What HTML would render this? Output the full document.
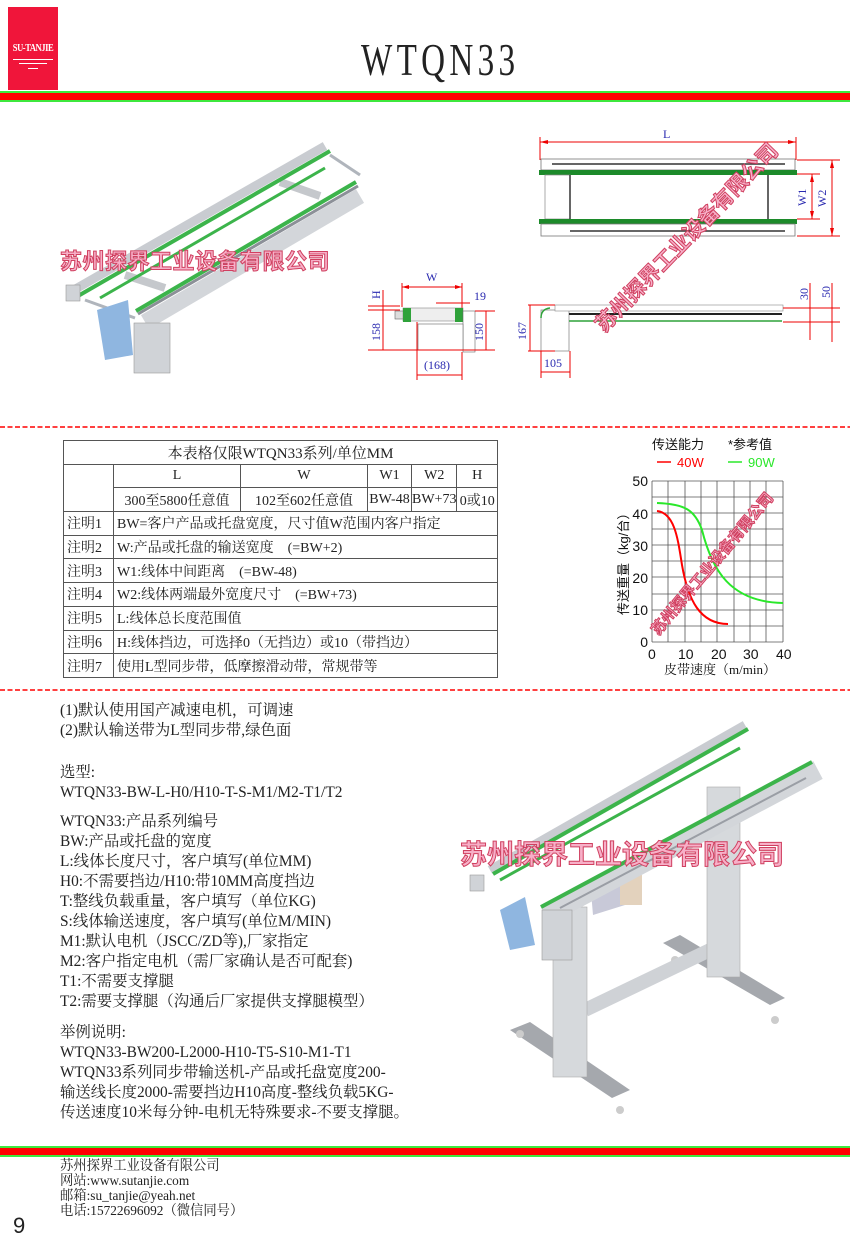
<!DOCTYPE html>
<html><head><meta charset="utf-8"><style>
*{margin:0;padding:0;box-sizing:border-box}
body{width:850px;height:1250px;background:#fff;position:relative;overflow:hidden;font-family:"Liberation Serif","Noto Serif CJK SC",serif;color:#222}
.a{position:absolute;white-space:nowrap}
.tx{font-size:15.4px;line-height:20px;left:60px}
table{border-collapse:collapse;position:absolute;left:63px;top:440px;width:435px;font-size:14px}
td{border:1px solid #555;height:23.7px;padding:0 3px;white-space:nowrap}
td.c{text-align:center}
.wm{position:absolute;white-space:nowrap;font-family:"Liberation Sans","Noto Sans CJK SC",sans-serif;font-weight:bold;color:#f7b0c8;-webkit-text-stroke:1px #d04060}
</style></head><body>

<div class="a" style="left:8px;top:7px;width:50px;height:83px;background:#f0153a"></div>
<div class="a" style="left:8px;top:43px;width:50px;text-align:center;color:#fff;font-size:10px;font-weight:bold;letter-spacing:-0.5px;transform:scaleX(0.85)">SU-TANJIE</div>
<div class="a" style="left:13px;top:59px;width:40px;height:1px;background:#fff"></div>
<div class="a" style="left:19px;top:63px;width:28px;height:1px;background:#fff"></div>
<div class="a" style="left:28px;top:68px;width:10px;height:1px;background:#fff"></div>
<div class="a" style="left:361px;top:34px;font-size:46px;letter-spacing:6px;line-height:52px;transform:scaleX(0.72);transform-origin:left">WTQN33</div>
<div class="a" style="left:0;top:91px;width:850px;height:2px;background:#3de83d"></div>
<div class="a" style="left:0;top:93px;width:850px;height:7px;background:#f00"></div>
<div class="a" style="left:0;top:100px;width:850px;height:2px;background:#3de83d"></div>

<svg class="a" style="left:0;top:0" width="850" height="1250">
<line x1="0" y1="427" x2="850" y2="427" stroke="#f00" stroke-width="1.6" stroke-dasharray="5,2.5"/>
<line x1="0" y1="690" x2="850" y2="690" stroke="#f00" stroke-width="1.6" stroke-dasharray="5,2.5"/>

<g>
<line x1="125" y1="275" x2="165" y2="288" stroke="#c5c8cc" stroke-width="8"/>
<line x1="280" y1="182" x2="320" y2="196" stroke="#c5c8cc" stroke-width="8"/>
<line x1="100" y1="298" x2="325" y2="168" stroke="#3cb44b" stroke-width="3"/>
<line x1="72" y1="291" x2="325" y2="146" stroke="#c9ccd1" stroke-width="9"/>
<line x1="78" y1="296" x2="330" y2="151" stroke="#3cb44b" stroke-width="4"/>
<line x1="85" y1="300" x2="135" y2="318" stroke="#b0b5bc" stroke-width="3"/>
<line x1="330" y1="155" x2="360" y2="175" stroke="#b0b5bc" stroke-width="3"/>
<polygon points="97,310 128,300 133,355 105,360" fill="#8fb6e0"/>
<line x1="145" y1="322" x2="360" y2="196" stroke="#d3d6da" stroke-width="16"/>
<line x1="138" y1="314" x2="358" y2="186" stroke="#8c9098" stroke-width="3"/>
<line x1="136" y1="311" x2="356" y2="182" stroke="#3cb44b" stroke-width="4"/>
<rect x="134" y="323" width="36" height="50" fill="#d0d3d7" stroke="#999" stroke-width="0.6"/>
<rect x="66" y="285" width="14" height="16" fill="#d0d3d7" stroke="#999" stroke-width="0.6"/>
</g>

<g font-family="Liberation Serif" font-size="12" fill="#2a2ab0">
<line x1="540" y1="137" x2="540" y2="160" stroke="#e00" stroke-width="1"/>
<line x1="796" y1="137" x2="796" y2="160" stroke="#e00" stroke-width="1"/>
<line x1="540" y1="142" x2="796" y2="142" stroke="#e00" stroke-width="1"/>
<polygon points="540,142 548,140 548,144" fill="#e00"/><polygon points="796,142 788,140 788,144" fill="#e00"/>
<text x="663" y="138">L</text>
<rect x="541" y="159" width="254" height="11" fill="#fff" stroke="#777" stroke-width="0.8"/>
<line x1="552" y1="164" x2="785" y2="164" stroke="#333" stroke-width="1.5"/>
<rect x="539" y="170" width="258" height="5" fill="#1c8a2a"/>
<rect x="545" y="175" width="25" height="44" fill="#fff" stroke="#888" stroke-width="0.7"/>
<line x1="570" y1="175" x2="570" y2="219" stroke="#333" stroke-width="1.5"/>
<line x1="768" y1="175" x2="768" y2="219" stroke="#333" stroke-width="1.5"/>
<rect x="539" y="219" width="258" height="5" fill="#1c8a2a"/>
<rect x="541" y="224" width="254" height="12" fill="#fff" stroke="#777" stroke-width="0.8"/>
<line x1="570" y1="231" x2="785" y2="231" stroke="#333" stroke-width="1.5"/>
<line x1="797" y1="174" x2="820" y2="174" stroke="#e00"/><line x1="797" y1="219" x2="820" y2="219" stroke="#e00"/>
<line x1="797" y1="160" x2="840" y2="160" stroke="#e00"/><line x1="797" y1="236" x2="840" y2="236" stroke="#e00"/>
<line x1="812" y1="174" x2="812" y2="219" stroke="#e00"/>
<line x1="832" y1="160" x2="832" y2="236" stroke="#e00"/>
<polygon points="812,174 810,182 814,182" fill="#e00"/><polygon points="812,219 810,211 814,211" fill="#e00"/>
<polygon points="832,160 830,168 834,168" fill="#e00"/><polygon points="832,236 830,228 834,228" fill="#e00"/>
<text x="0" y="0" transform="translate(806,206) rotate(-90)">W1</text>
<text x="0" y="0" transform="translate(826,207) rotate(-90)">W2</text>
</g>

<g font-family="Liberation Serif" font-size="12" fill="#2a2ab0" stroke-width="1">
<line x1="402" y1="283" x2="402" y2="307" stroke="#e00"/><line x1="462" y1="283" x2="462" y2="310" stroke="#e00"/>
<line x1="402" y1="287" x2="462" y2="287" stroke="#e00"/>
<polygon points="402,287 409,285 409,289" fill="#e00"/><polygon points="462,287 455,285 455,289" fill="#e00"/>
<text x="426" y="281">W</text>
<line x1="436" y1="303" x2="470" y2="303" stroke="#e00"/>
<text x="474" y="300">19</text>
<rect x="395" y="311" width="10" height="8" fill="#ddd" stroke="#666" stroke-width="0.6"/>
<rect x="403" y="308" width="60" height="13" fill="#eee" stroke="#888" stroke-width="0.6"/>
<rect x="403" y="308" width="8" height="14" fill="#2fa23a"/>
<rect x="455" y="308" width="8" height="14" fill="#2fa23a"/>
<rect x="463" y="311" width="12" height="41" fill="#fff" stroke="#666" stroke-width="0.6"/>
<rect x="418" y="324" width="45" height="26" fill="#fff" stroke="#666" stroke-width="0.6"/>
<line x1="368" y1="306" x2="400" y2="306" stroke="#e00"/><line x1="368" y1="310" x2="400" y2="310" stroke="#e00"/>
<line x1="368" y1="350" x2="495" y2="350" stroke="#e00"/>
<line x1="383" y1="290" x2="383" y2="350" stroke="#e00"/>
<text x="0" y="0" transform="translate(380,299) rotate(-90)">H</text>
<text x="0" y="0" transform="translate(380,341) rotate(-90)">158</text>
<line x1="475" y1="311" x2="495" y2="311" stroke="#e00"/>
<line x1="486" y1="311" x2="486" y2="350" stroke="#e00"/>
<text x="0" y="0" transform="translate(483,341) rotate(-90)">150</text>
<line x1="417" y1="322" x2="417" y2="380" stroke="#e00"/><line x1="462" y1="352" x2="462" y2="380" stroke="#e00"/>
<line x1="417" y1="375" x2="462" y2="375" stroke="#e00"/>
<text x="424" y="369">(168)</text>
</g>

<g font-family="Liberation Serif" font-size="12" fill="#2a2ab0">
<rect x="541" y="310" width="28" height="41" fill="#fff" stroke="#666" stroke-width="0.6"/>
<rect x="555" y="305" width="228" height="6" fill="#fff" stroke="#888" stroke-width="0.6"/>
<line x1="569" y1="314" x2="782" y2="314" stroke="#222" stroke-width="2"/>
<line x1="569" y1="321" x2="782" y2="321" stroke="#2fa23a" stroke-width="1.5"/>
<path d="M541,318 Q541,309 550,308" stroke="#2fa23a" fill="none" stroke-width="1.5"/>
<line x1="528" y1="305" x2="555" y2="305" stroke="#e00"/><line x1="528" y1="351" x2="555" y2="351" stroke="#e00"/>
<line x1="530" y1="305" x2="530" y2="351" stroke="#e00"/>
<text x="0" y="0" transform="translate(526,340) rotate(-90)">167</text>
<line x1="541" y1="351" x2="541" y2="378" stroke="#e00"/><line x1="570" y1="351" x2="570" y2="378" stroke="#e00"/>
<line x1="541" y1="372" x2="570" y2="372" stroke="#e00"/>
<text x="544" y="367">105</text>
<line x1="783" y1="308" x2="840" y2="308" stroke="#e00"/><line x1="783" y1="322" x2="840" y2="322" stroke="#e00"/>
<line x1="810" y1="283" x2="810" y2="340" stroke="#e00"/><line x1="832" y1="283" x2="832" y2="342" stroke="#e00"/>
<text x="0" y="0" transform="translate(808,300) rotate(-90)">30</text>
<text x="0" y="0" transform="translate(830,298) rotate(-90)">50</text>
</g>

<g>
<polygon points="510,1030 530,1022 630,1090 612,1098" fill="#a5a8ad"/>
<polygon points="663,943 680,935 785,998 770,1005" fill="#a5a8ad"/>
<circle cx="520" cy="1034" r="4" fill="#ccc"/><circle cx="620" cy="1110" r="4" fill="#ccc"/>
<circle cx="675" cy="960" r="4" fill="#ccc"/><circle cx="775" cy="1020" r="4" fill="#ccc"/>
<line x1="585" y1="1010" x2="710" y2="950" stroke="#cfd2d6" stroke-width="14"/>
<rect x="707" y="787" width="33" height="190" fill="#d6d9dc" stroke="#aaa" stroke-width="0.6"/>
<rect x="553" y="907" width="34" height="170" fill="#d6d9dc" stroke="#aaa" stroke-width="0.6"/>
<polygon points="590,880 620,866 625,905 593,915" fill="#c8c9d8"/>
<rect x="620" y="875" width="22" height="30" fill="#e3d2bd"/>
<line x1="490" y1="870" x2="745" y2="725" stroke="#c9ccd1" stroke-width="9"/>
<line x1="493" y1="874" x2="748" y2="729" stroke="#3cb44b" stroke-width="4"/>
<line x1="500" y1="880" x2="740" y2="748" stroke="#3cb44b" stroke-width="3"/>
<polygon points="500,910 525,897 535,945 510,950" fill="#8fb6e0"/>
<line x1="545" y1="915" x2="818" y2="770" stroke="#d3d6da" stroke-width="20"/>
<line x1="541" y1="907" x2="812" y2="762" stroke="#3cb44b" stroke-width="4"/>
<line x1="560" y1="908" x2="806" y2="778" stroke="#9a9ea5" stroke-width="2"/>
<rect x="542" y="910" width="30" height="50" fill="#d0d3d7" stroke="#999" stroke-width="0.6"/>
<rect x="470" y="875" width="14" height="16" fill="#d0d3d7" stroke="#999" stroke-width="0.6"/>
</g>

<g font-family="Liberation Sans" font-size="14" fill="#111">
<g stroke="#555" stroke-width="0.8">
<line x1="652" y1="481" x2="783" y2="481"/><line x1="652" y1="497" x2="783" y2="497"/><line x1="652" y1="513" x2="783" y2="513"/><line x1="652" y1="529" x2="783" y2="529"/><line x1="652" y1="545" x2="783" y2="545"/><line x1="652" y1="561" x2="783" y2="561"/><line x1="652" y1="577" x2="783" y2="577"/><line x1="652" y1="594" x2="783" y2="594"/><line x1="652" y1="610" x2="783" y2="610"/><line x1="652" y1="626" x2="783" y2="626"/><line x1="652" y1="642" x2="783" y2="642"/>
<line x1="652" y1="481" x2="652" y2="642"/><line x1="668" y1="481" x2="668" y2="642"/><line x1="685" y1="481" x2="685" y2="642"/><line x1="701" y1="481" x2="701" y2="642"/><line x1="717" y1="481" x2="717" y2="642"/><line x1="734" y1="481" x2="734" y2="642"/><line x1="750" y1="481" x2="750" y2="642"/><line x1="766" y1="481" x2="766" y2="642"/><line x1="783" y1="481" x2="783" y2="642"/>
</g>
<path d="M657,511 C675,513 678,540 682,565 C688,600 700,624 728,624" stroke="#f00" stroke-width="2" fill="none"/>
<path d="M657,503 C685,504 695,510 702,530 C712,570 730,602 783,603" stroke="#2ae82a" stroke-width="2" fill="none"/>
<g text-anchor="end"><text x="648" y="486">50</text><text x="648" y="519">40</text><text x="648" y="551">30</text><text x="648" y="583">20</text><text x="648" y="615">10</text><text x="648" y="647">0</text></g>
<text x="648" y="659">0</text><text x="678" y="659">10</text><text x="711" y="659">20</text><text x="743" y="659">30</text><text x="776" y="659">40</text>
<text x="0" y="0" font-family="Liberation Sans,Noto Sans CJK SC" font-size="13" transform="translate(628,615) rotate(-90)">传送重量（kg/台）</text>
<text x="664" y="674" font-family="Liberation Serif,Noto Serif CJK SC" font-size="13">皮带速度（m/min）</text>
<text x="652" y="449" font-family="Liberation Sans,Noto Sans CJK SC" font-size="13">传送能力</text>
<text x="728" y="449" font-family="Liberation Sans,Noto Sans CJK SC" font-size="13">*参考值</text>
<line x1="657" y1="462" x2="671" y2="462" stroke="#f00" stroke-width="1.5"/><text x="677" y="467" fill="#f00" font-size="13">40W</text>
<line x1="728" y1="462" x2="742" y2="462" stroke="#2ae82a" stroke-width="1.5"/><text x="748" y="467" fill="#2ae82a" font-size="13">90W</text>
</g>
</svg>

<div class="wm" style="left:60px;top:244px;font-size:22px;letter-spacing:0.5px">苏州探界工业设备有限公司</div>
<div class="wm" style="left:460px;top:833px;font-size:27px">苏州探界工业设备有限公司</div>
<div class="wm" style="left:560px;top:222px;font-size:21px;transform:rotate(-46deg)">苏州探界工业设备有限公司</div>
<div class="wm" style="left:622px;top:553px;font-size:15px;transform:rotate(-50deg)">苏州探界工业设备有限公司</div>

<table>
<tr><td colspan="6" class="c" style="font-size:15px">本表格仅限WTQN33系列/单位MM</td></tr>
<tr><td rowspan="2" style="width:50px"></td><td class="c" style="width:127px">L</td><td class="c" style="width:127px">W</td><td class="c" style="width:44px">W1</td><td class="c" style="width:43px">W2</td><td class="c">H</td></tr>
<tr><td class="c">300至5800任意值</td><td class="c">102至602任意值</td><td class="c" style="padding:0">BW-48</td><td class="c" style="padding:0">BW+73</td><td class="c" style="padding:0">0或10</td></tr>
<tr><td>注明1</td><td colspan="5">BW=客户产品或托盘宽度，尺寸值W范围内客户指定</td></tr>
<tr><td>注明2</td><td colspan="5">W:产品或托盘的输送宽度　(=BW+2)</td></tr>
<tr><td>注明3</td><td colspan="5">W1:线体中间距离　(=BW-48)</td></tr>
<tr><td>注明4</td><td colspan="5">W2:线体两端最外宽度尺寸　(=BW+73)</td></tr>
<tr><td>注明5</td><td colspan="5">L:线体总长度范围值</td></tr>
<tr><td>注明6</td><td colspan="5">H:线体挡边，可选择0（无挡边）或10（带挡边）</td></tr>
<tr><td>注明7</td><td colspan="5">使用L型同步带，低摩擦滑动带，常规带等</td></tr>
</table>

<div class="a tx" style="top:701px">(1)默认使用国产减速电机，可调速<br>(2)默认输送带为L型同步带,绿色面</div>
<div class="a tx" style="top:763px">选型:<br>WTQN33-BW-L-H0/H10-T-S-M1/M2-T1/T2</div>
<div class="a tx" style="top:812px">WTQN33:产品系列编号<br>BW:产品或托盘的宽度<br>L:线体长度尺寸，客户填写(单位MM)<br>H0:不需要挡边/H10:带10MM高度挡边<br>T:整线负载重量，客户填写（单位KG)<br>S:线体输送速度，客户填写(单位M/MIN)<br>M1:默认电机（JSCC/ZD等),厂家指定<br>M2:客户指定电机（需厂家确认是否可配套)<br>T1:不需要支撑腿<br>T2:需要支撑腿（沟通后厂家提供支撑腿模型）</div>
<div class="a tx" style="top:1023px">举例说明:<br>WTQN33-BW200-L2000-H10-T5-S10-M1-T1<br>WTQN33系列同步带输送机-产品或托盘宽度200-<br>输送线长度2000-需要挡边H10高度-整线负载5KG-<br>传送速度10米每分钟-电机无特殊要求-不要支撑腿。</div>

<div class="a" style="left:0;top:1146px;width:850px;height:2px;background:#3de83d"></div>
<div class="a" style="left:0;top:1148px;width:850px;height:7px;background:#f00"></div>
<div class="a" style="left:0;top:1155px;width:850px;height:2px;background:#3de83d"></div>
<div class="a" style="left:60px;top:1159px;font-size:14px;line-height:15px;transform:scaleX(0.95);transform-origin:left">苏州探界工业设备有限公司<br>网站:www.sutanjie.com<br>邮箱:su_tanjie@yeah.net<br>电话:15722696092（微信同号）</div>
<div class="a" style="left:13px;top:1213px;font-family:'Liberation Sans',sans-serif;font-size:22px">9</div>
</body></html>
